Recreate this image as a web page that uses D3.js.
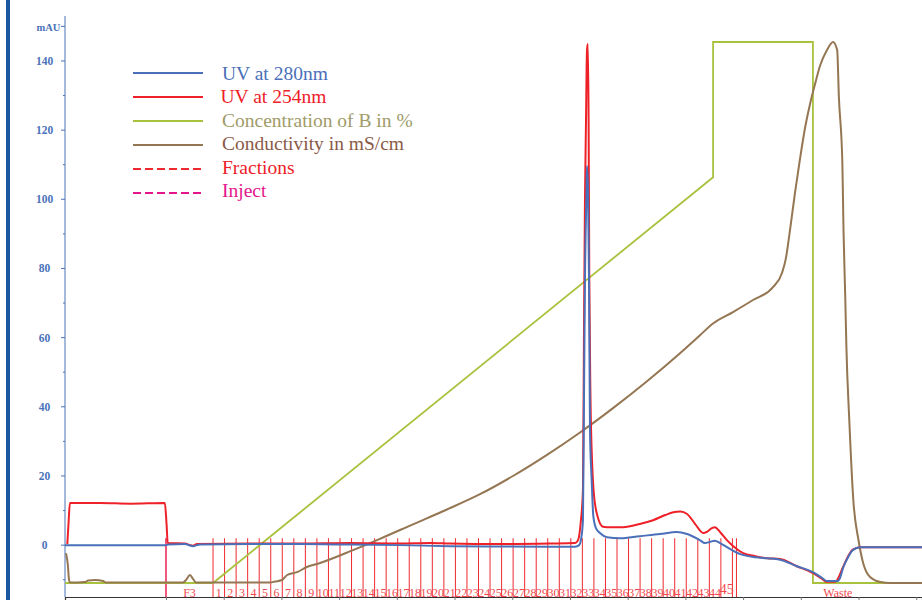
<!DOCTYPE html>
<html>
<head>
<meta charset="utf-8">
<script src="https://cdn.jsdelivr.net/npm/d3@7"></script>
<style>
  html, body { margin: 0; padding: 0; background: #fff; }
  svg { display: block; }
</style>
</head>
<body>
<svg id="chart" width="922" height="600"></svg>
<script>
// ---- Run data (volume in mL, UV in mAU, %B, conductivity in mS/cm) ----

// UV absorbance at 280 nm: [volume, mAU]
const uv280 = [
  [-17.5, 0], [0, 0], [0.35, 0.15], [3.3, 0.3], [4.16, -0.1], [4.68, -0.3], [5.37, 0], [5.9, 0.15],
  [14.56, 0.3], [23.2, 0.3], [31.9, 0.15], [40.5, 0], [49.2, -0.3], [57.9, -0.4], [66.5, -0.45],
  [70.9, -0.45], [71.6, 0], [71.9, 1.5], [72.25, 7.2], [72.43, 42], [72.6, 76.6], [72.87, 102.7],
  [72.95, 109.6], [73.13, 102.7], [73.3, 76.6], [73.47, 33], [73.76, 18.8], [74.04, 8.5],
  [74.5, 4.9], [75.2, 3.5], [76.4, 2.3], [78.7, 2.0], [82.1, 2.6], [85.6, 3.2], [88.5, 3.8],
  [90.3, 3.2], [92.5, 1.45], [93.4, 0.6], [94.2, 0.9], [95.1, 1.3], [96.0, 0.6], [97.2, -0.6],
  [99.5, -2.6], [102.1, -3.5], [104.2, -3.8], [106.4, -4.2], [109.3, -6.1], [112.1, -7.8],
  [113.7, -9.5], [114.5, -10.4], [116.3, -10.4], [116.8, -9.5], [117.3, -6.7], [118.2, -3.5],
  [119.0, -1.45], [120.3, -0.6], [123.7, -0.6], [131, -0.6]
];

// UV absorbance at 254 nm: [volume, mAU]
const uv254 = [
  [-17.1, 0.3], [-16.9, 6], [-16.65, 12.2], [-11.4, 12.2], [-6.2, 12.0], [-0.2, 12.2], [0.1, 6],
  [0.3, 0.6], [3.3, 0.45], [4.16, 0], [4.68, -0.15], [5.37, 0.3], [14.56, 0.45], [23.2, 0.45],
  [31.9, 0.6], [40.5, 0.45], [45.7, 0.6], [49.2, 0.45], [57.9, 0.3], [66.5, 0.45], [70.9, 0.6],
  [71.4, 1.45], [71.9, 7.2], [72.25, 15.9], [72.43, 62], [72.6, 99.8], [72.78, 122.9],
  [72.95, 143.1], [73.09, 144.9], [73.23, 123], [73.35, 76.6], [73.56, 42], [73.82, 24.6],
  [74.05, 16.8], [74.64, 9.2], [75.73, 5.3], [76.4, 5.2], [79.2, 5.2], [82.1, 6.1], [84.4, 7.2],
  [86.5, 8.7], [87.9, 9.5], [89.1, 9.7], [90.3, 9.0], [91.7, 6.1], [93.1, 3.5], [93.7, 3.8],
  [94.6, 4.9], [95.1, 5.2], [96.0, 3.8], [97.2, 1.45], [98.3, -0.3], [100.0, -2.3], [102.1, -3.2],
  [104.2, -3.8], [106.4, -4.0], [109.3, -6.1], [112.1, -8.1], [113.7, -9.8], [114.5, -10.6],
  [116.0, -10.6], [116.5, -9.5], [117.3, -6.4], [118.2, -3.2], [119.0, -1.3], [120.3, -0.6],
  [131, -0.6]
];

// Gradient, concentration of buffer B: [volume, %]
const concB = [
  [-17.5, 0], [8.15, 0], [94.8, 75], [94.8, 100], [112.1, 100], [112.1, 0], [131, 0]
];

// Conductivity: [volume, mS/cm]
const conductivity = [
  [-17.33, 5.5], [-17.0, 3.3], [-16.8, 0.55], [-16.6, 0.1], [-14.0, 0.2], [-13.5, 0.46],
  [-12.3, 0.55], [-10.9, 0.37], [-10.4, 0.1], [2.95, 0.1], [3.47, 0.55], [4.16, 1.48],
  [4.68, 0.74], [5.2, 0.1], [18.0, 0.1], [18.9, 0.28], [20.1, 0.55], [21.0, 1.48], [22.7, 2.0],
  [24.4, 2.96], [26.7, 3.7], [32.4, 6.08], [37.08, 8.17], [42.8, 10.85], [48.69, 13.59],
  [54.41, 16.41], [60.13, 19.78], [66.02, 23.68], [71.74, 27.82], [77.46, 32.33], [83.35, 37.3],
  [89.07, 42.48], [92.53, 45.8], [94.78, 47.97], [98.25, 50.09], [101.72, 52.31], [105.18, 54.71],
  [106.74, 57.3], [107.43, 60.1], [108.12, 65.2], [108.99, 72.1], [109.86, 78.4], [110.73, 84.1],
  [111.59, 88.5], [112.46, 92.2], [113.33, 95.6], [114.54, 98.5], [115.58, 100], [116.3, 98.5],
  [116.6, 89.8], [117.2, 77.6], [117.4, 65.2], [117.7, 52.9], [117.9, 43.6], [118.4, 30.1],
  [119.1, 15.3], [120.0, 7.9], [120.8, 3.7], [122.0, 1.1], [123.8, 0.18], [125.5, 0], [131, 0]
];

// Fraction marks (start volume of each fraction) and their names
const fractionMarks = [
  0, 8.15, 10.15, 12.15, 14.15, 16.15, 18.15, 20.15, 22.15, 24.15, 26.15, 28.15, 30.15, 32.15,
  34.15, 36.15, 38.15, 40.15, 42.15, 44.15, 46.15, 48.15, 50.15, 52.15, 54.15, 56.15, 58.15,
  60.15, 62.15, 64.15, 66.15, 68.15, 70.15, 72.15, 74.15, 76.15, 78.15, 80.15, 82.15, 84.15,
  86.15, 88.15, 90.15, 92.15, 94.15, 96.15, 98.15, 98.85
];
const fractionNames = [
  "F3", "1", "2", "3", "4", "5", "6", "7", "8", "9", "10", "11", "12", "13", "14", "15", "16",
  "17", "18", "19", "20", "21", "22", "23", "24", "25", "26", "27", "28", "29", "30", "31", "32",
  "33", "34", "35", "36", "37", "38", "39", "40", "41", "42", "43", "44", "45", "", "Waste"
];
const runEnd = 134;

// Injection mark
const injectMarks = [0];

// Axis ticks
const xTicks = [0, 10, 20, 30, 40, 50, 60, 70, 80, 90, 100, 110, 120, 130];
const yMajorTicks = [0, 20, 40, 60, 80, 100, 120, 140];
const yMinorTicks = [-10, 10, 30, 50, 70, 90, 110, 130];
const yUnitTick = 150;

// Legend entries
const legendLabels = ["UV at 280nm", "UV at 254nm", "Concentration of B in %", "Conductivity in mS/cm", "Fractions", "Inject"];

// ---- Styles ----
const SERIF = "'Liberation Serif', 'Times New Roman', serif";
const C = {
  uv280: "#4a70b9",
  uv254: "#ee2028",
  concB: "#a8c23e",
  cond: "#957652",
  frac: "#ee2a30",
  inject: "#e3168c",
  axis: "#4a72b8",
  bar: "#1a57a0"
};

const svg = d3.select("#chart");
svg.append("rect").attr("width", 922).attr("height", 600).attr("fill", "#fff");

// Scales
const x = d3.scaleLinear().domain([-17.5, 131]).range([65, 922]);
const y = d3.scaleLinear().domain([-15, 153]).range([597, 16]);
const yB = d3.scaleLinear().domain([0, 100]).range([583, 42]);
const yC = d3.scaleLinear().domain([0, 100]).range([583, 42]);

// Page side bar
svg.append("rect").attr("x", 6).attr("y", 0).attr("width", 4).attr("height", 600).attr("fill", C.bar);

// Clip to plot area
svg.append("clipPath").attr("id", "plot")
  .append("rect").attr("x", 65).attr("y", 10).attr("width", 857).attr("height", 588);

// Y axis
const yAxis = svg.append("g").attr("transform", "translate(65,0)");
yAxis.append("line").attr("x1", 0).attr("x2", 0).attr("y1", 16).attr("y2", 597)
  .attr("stroke", C.axis).attr("stroke-width", 1);
yAxis.selectAll("line.major").data(yMajorTicks.concat([yUnitTick])).join("line")
  .attr("class", "major").attr("x1", -4).attr("x2", 0)
  .attr("y1", d => y(d)).attr("y2", d => y(d))
  .attr("stroke", C.axis).attr("stroke-width", 1);
yAxis.selectAll("line.minor").data(yMinorTicks).join("line")
  .attr("class", "minor").attr("x1", -2).attr("x2", 0)
  .attr("y1", d => y(d)).attr("y2", d => y(d))
  .attr("stroke", C.axis).attr("stroke-width", 1);
svg.append("g").selectAll("text").data(yMajorTicks).join("text")
  .attr("x", 44.5).attr("y", d => y(d) + 4)
  .attr("text-anchor", "middle")
  .attr("font-family", SERIF).attr("font-weight", "bold")
  .attr("font-size", 11.5).attr("fill", C.axis)
  .text(d => d);
svg.append("text").attr("x", 48.5).attr("y", y(yUnitTick) + 5)
  .attr("text-anchor", "middle")
  .attr("font-family", SERIF).attr("font-weight", "bold")
  .attr("font-size", 10.5).attr("fill", C.axis).text("mAU");

// X axis (volume, unlabeled ticks)
const xAxis = d3.axisBottom(x).tickValues(xTicks).tickSize(4).tickFormat("");
const gx = svg.append("g").attr("transform", "translate(0,597)").call(xAxis);
gx.select(".domain").attr("stroke", "#333").attr("stroke-width", 1.2);
gx.selectAll(".tick line").attr("stroke", "#777");

const plot = svg.append("g").attr("clip-path", "url(#plot)");

// Injection mark
plot.selectAll("line.inject").data(injectMarks).join("line")
  .attr("class", "inject")
  .attr("x1", d => x(d)).attr("x2", d => x(d)).attr("y1", y(2)).attr("y2", 597)
  .attr("stroke", C.inject).attr("stroke-width", 1);

// Fraction marks
plot.selectAll("line.frac").data(fractionMarks).join("line")
  .attr("class", "frac")
  .attr("x1", d => x(d)).attr("x2", d => x(d)).attr("y1", y(2)).attr("y2", 597)
  .attr("stroke", C.frac).attr("stroke-width", 1);

// Fraction labels, centred in each fraction
const fracLabelData = fractionMarks.map((m, i) => ({
  name: fractionNames[i],
  mid: (m + (i + 1 < fractionMarks.length ? fractionMarks[i + 1] : runEnd)) / 2
})).filter(d => d.name !== "");
plot.selectAll("text.frac").data(fracLabelData).join("text")
  .attr("class", "frac")
  .attr("x", d => x(d.mid)).attr("y", d => d.name === "45" ? 594 : 596.5)
  .attr("text-anchor", "middle")
  .attr("font-family", SERIF)
  .attr("font-size", d => d.name === "45" ? 14 : 12)
  .attr("fill", "#f0484e")
  .text(d => d.name);

// Curves
const lineUV = d3.line().curve(d3.curveMonotoneX).x(d => x(d[0])).y(d => y(d[1]));
const lineB = d3.line().x(d => x(d[0])).y(d => yB(d[1]));
const lineC = d3.line().curve(d3.curveMonotoneX).x(d => x(d[0])).y(d => yC(d[1]));

plot.append("path").datum(concB).attr("d", lineB)
  .attr("fill", "none").attr("stroke", C.concB).attr("stroke-width", 1.8);
plot.append("path").datum(conductivity).attr("d", lineC)
  .attr("fill", "none").attr("stroke", C.cond).attr("stroke-width", 2);
plot.append("path").datum(uv254).attr("d", lineUV)
  .attr("fill", "none").attr("stroke", C.uv254).attr("stroke-width", 2).attr("stroke-linejoin", "round");
plot.append("path").datum(uv280).attr("d", lineUV)
  .attr("fill", "none").attr("stroke", C.uv280).attr("stroke-width", 2).attr("stroke-linejoin", "round");

// Legend
const legendStyles = [
  { stroke: C.uv280, dash: null, text: "#4a70b9" },
  { stroke: C.uv254, dash: null, text: "#ee2028" },
  { stroke: C.concB, dash: null, text: "#a09b68" },
  { stroke: C.cond, dash: null, text: "#8a5a48" },
  { stroke: C.frac, dash: "8,4", text: "#ee2028" },
  { stroke: C.inject, dash: "8,4", text: "#e3168c" }
];
const legend = svg.append("g");
legend.selectAll("line").data(legendLabels).join("line")
  .attr("x1", 133).attr("x2", 203)
  .attr("y1", (d, i) => 73 + i * 24).attr("y2", (d, i) => 73 + i * 24)
  .attr("stroke", (d, i) => legendStyles[i].stroke).attr("stroke-width", 2.2)
  .attr("stroke-dasharray", (d, i) => legendStyles[i].dash);
legend.selectAll("text").data(legendLabels).join("text")
  .attr("x", (d, i) => i === 1 ? 220.5 : 222)
  .attr("y", (d, i) => 80 + i * 23.4)
  .attr("font-family", SERIF).attr("font-size", 19.5)
  .attr("fill", (d, i) => legendStyles[i].text)
  .text(d => d);
</script>
</body>
</html>
